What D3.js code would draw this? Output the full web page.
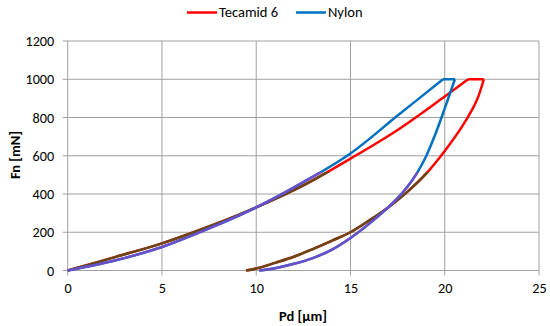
<!DOCTYPE html>
<html>
<head>
<meta charset="utf-8">
<script src="https://cdn.jsdelivr.net/npm/d3@7"></script>
<style>
  body { margin: 0; background: #fff; }
  svg { display: block; font-family: Carlito, Lato, "Liberation Sans", sans-serif; }
</style>
</head>
<body>
<svg id="chart"></svg>
<script>
// series names and tick values
let seriesNames = ["Tecamid 6", "Nylon"];
let xTicks = [0, 5, 10, 15, 20, 25];
let yTicks = [0, 200, 400, 600, 800, 1000, 1200];

// Tecamid 6: loading branch then unloading branch (Pd in um, Fn in mN)
let tecLoadPd = [0, 2.5, 5, 7.5, 10, 12.5, 15, 17.5, 20, 21.24];
let tecLoadFn = [0, 70, 142, 230, 330, 445, 585, 735, 910, 1000];
let tecUnloadPd = [22.07, 21.7, 21, 20, 19, 18, 17, 16, 15, 14, 13, 12, 11, 10, 9.46];
let tecUnloadFn = [1000, 890, 765, 625, 505, 410, 330, 262, 200, 155, 112, 72, 40, 10, 0];

// Nylon
let nylLoadPd = [0, 2.5, 5, 7.5, 10, 12.5, 15, 17.5, 19.91];
let nylLoadFn = [0, 52, 123, 220, 330, 462, 612, 810, 1000];
let nylUnloadPd = [20.54, 20, 19.5, 19, 18.5, 18, 17.5, 17, 16, 15, 14, 13, 12, 11, 10.16];
let nylUnloadFn = [1000, 848, 712, 595, 505, 435, 378, 330, 245, 170, 108, 65, 35, 12, 0];

let colors = ["#ff0000", "#0070c0"];
let darkColors = ["#6b4515", "#6a4fc9"]; // lower part of each curve is drawn darker in the source
let darkBelow = 515;

let svgWidth = 550, svgHeight = 326;
let margin = {top: 41, left: 67.7, right: 11, bottom: 55.5};
let width = svgWidth - margin.left - margin.right;
let height = svgHeight - margin.top - margin.bottom;

let svg = d3.select("#chart")
    .attr("width", svgWidth)
    .attr("height", svgHeight);

let g = svg.append("g")
    .attr("transform", "translate(" + margin.left + "," + margin.top + ")");

let x = d3.scaleLinear().domain([0, 25]).range([0, width]);
let y = d3.scaleLinear().domain([0, 1200]).range([height, 0]);

// gridlines
g.append("g")
    .selectAll("line")
    .data(yTicks)
    .join("line")
    .attr("x1", -5).attr("x2", width)
    .attr("y1", d => y(d)).attr("y2", d => y(d))
    .attr("stroke", "#a0a0a0").attr("stroke-width", 1);

g.append("g")
    .selectAll("line")
    .data(xTicks)
    .join("line")
    .attr("x1", d => x(d)).attr("x2", d => x(d))
    .attr("y1", 0).attr("y2", height + 5)
    .attr("stroke", "#a0a0a0").attr("stroke-width", 1);

// tick labels via d3 axes
let yAxis = g.append("g")
    .call(d3.axisLeft(y).tickValues(yTicks).tickFormat(d3.format("d")).tickSize(0).tickPadding(13.5));
let xAxis = g.append("g")
    .attr("transform", "translate(0," + height + ")")
    .call(d3.axisBottom(x).tickValues(xTicks).tickFormat(d3.format("d")).tickSize(0).tickPadding(12));
[xAxis, yAxis].forEach(function (a) {
    a.select(".domain").remove();
    a.selectAll("text").attr("font-size", 14.2).attr("fill", "#000")
        .attr("font-family", "Carlito, Lato, sans-serif");
});

// axis titles
svg.append("text")
    .attr("x", 303).attr("y", 321)
    .attr("text-anchor", "middle")
    .attr("font-size", 14.5).attr("font-weight", "bold")
    .text("Pd [\u03bcm]");

svg.append("text")
    .attr("transform", "translate(20,155) rotate(-90)")
    .attr("text-anchor", "middle")
    .attr("font-size", 14.5).attr("font-weight", "bold")
    .text("Fn [mN]");

// clip for the darker lower part
svg.append("defs").append("clipPath")
    .attr("id", "lowClip")
    .append("rect")
    .attr("x", -10).attr("y", y(darkBelow))
    .attr("width", width + 20).attr("height", height - y(darkBelow) + 10);

let curve = d3.line()
    .x(d => x(d[0]))
    .y(d => y(d[1]))
    .curve(d3.curveCatmullRom.alpha(0.5));
let straight = d3.line()
    .x(d => x(d[0]))
    .y(d => y(d[1]));

let series = [
    {load: d3.zip(tecLoadPd, tecLoadFn), unload: d3.zip(tecUnloadPd, tecUnloadFn)},
    {load: d3.zip(nylLoadPd, nylLoadFn), unload: d3.zip(nylUnloadPd, nylUnloadFn)}
];

series.forEach(function (s, i) {
    let top = [s.load[s.load.length - 1], s.unload[0]];
    [[curve, s.load], [straight, top], [curve, s.unload]].forEach(function (p) {
        g.append("path")
            .datum(p[1])
            .attr("fill", "none")
            .attr("stroke", colors[i])
            .attr("stroke-width", 2.5)
            .attr("stroke-linejoin", "round")
            .attr("d", p[0]);
    });
    [s.load, s.unload].forEach(function (part) {
        g.append("path")
            .datum(part)
            .attr("clip-path", "url(#lowClip)")
            .attr("fill", "none")
            .attr("stroke", darkColors[i])
            .attr("stroke-width", 2.5)
            .attr("d", curve);
    });
});

// legend
let legendX = [187, 296];
seriesNames.forEach(function (name, i) {
    svg.append("line")
        .attr("x1", legendX[i]).attr("x2", legendX[i] + 30)
        .attr("y1", 12.5).attr("y2", 12.5)
        .attr("stroke", colors[i]).attr("stroke-width", 2.5);
    svg.append("text")
        .attr("x", legendX[i] + 32).attr("y", 17.3)
        .attr("font-size", 14.5)
        .text(name);
});
</script>
</body>
</html>
